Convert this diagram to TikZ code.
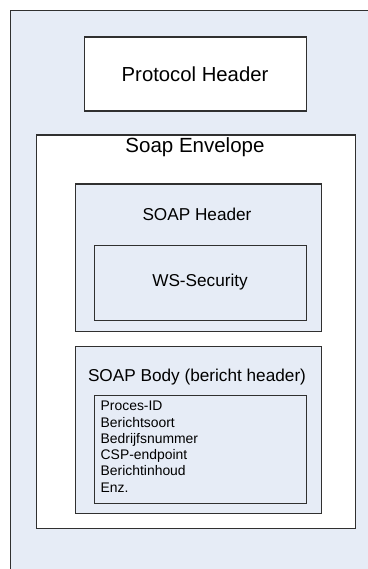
\documentclass[tikz,border=0pt]{standalone}
\usepackage{fontspec}
\setmainfont{Liberation Sans}
\definecolor{lblue}{HTML}{E6ECF6}
\definecolor{edge}{HTML}{303030}
\begin{document}
\begin{tikzpicture}[x=1pt,y=-1pt,
  box/.style={draw=edge,line width=1.1pt},
  bluebox/.style={box,fill=lblue},
  whitebox/.style={box,fill=white},
  lbl/.style={inner sep=0pt,anchor=center}]
\useasboundingbox (0,0) rectangle (367,569);
\fill[white] (0,0) rectangle (367,569);
% outer container (extends beyond page)
\draw[bluebox] (10.5,10.5) rectangle (380,590);
\node[whitebox,minimum width=222pt,minimum height=74pt,anchor=north west,inner sep=0pt] (ph) at (83.5,36.5) {};
\node[lbl,font=\fontsize{20.3}{24}\selectfont] at (ph.center) {Protocol Header};
\node[whitebox,minimum width=319pt,minimum height=393pt,anchor=north west,inner sep=0pt] (env) at (35.5,134.5) {};
\node[lbl,font=\fontsize{20.5}{24}\selectfont] (envl) at (195,147.5) {Soap Envelope};
\node[bluebox,minimum width=246pt,minimum height=147pt,anchor=north west,inner sep=0pt] (sh) at (74.5,183.5) {};
\node[lbl,font=\fontsize{17.2}{20}\selectfont] (shl) at (197,214.5) {SOAP Header};
\node[bluebox,minimum width=212pt,minimum height=75pt,anchor=north west,inner sep=0pt] (ws) at (93.5,244.5) {};
\node[lbl,font=\fontsize{17.2}{20}\selectfont] at (ws.center) {WS-Security};
\node[bluebox,minimum width=246pt,minimum height=167pt,anchor=north west,inner sep=0pt] (sb) at (74.5,346) {};
\node[lbl,font=\fontsize{17.2}{20}\selectfont] (sbl) at (197,377.5) {SOAP Body (bericht header)};
\node[bluebox,minimum width=212pt,minimum height=108pt,anchor=north west,inner sep=0pt] (lst) at (93.5,394.5) {};
\node[anchor=north west,inner sep=0pt,align=left,font=\fontsize{13.9}{16.3}\selectfont] (lstt) at (100.5,401) {Proces-ID\\Berichtsoort\\Bedrijfsnummer\\CSP-endpoint\\Berichtinhoud\\Enz.};
\end{tikzpicture}
\end{document}
